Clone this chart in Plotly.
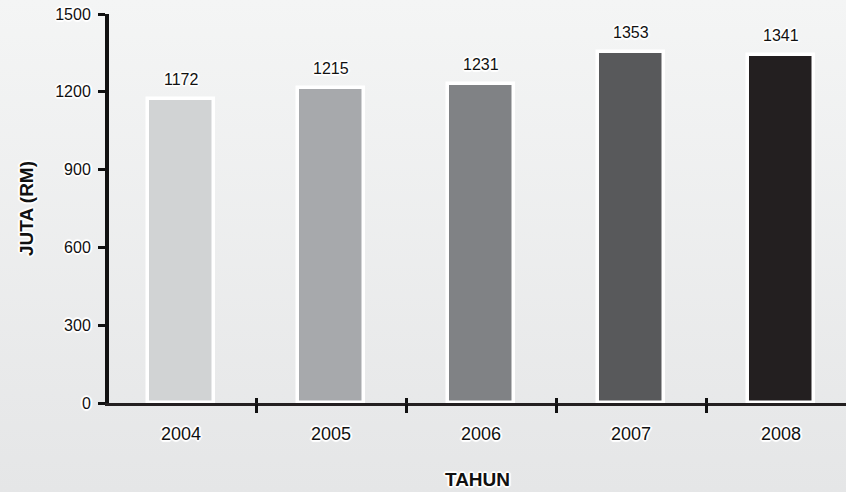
import base64
import plotly.graph_objects as go

# ---- data ----
years = ["2004", "2005", "2006", "2007", "2008"]
values = [1172, 1215, 1231, 1353, 1341]
bar_colors = ["#d1d3d4", "#a7a9ac", "#808285", "#58595b", "#231f20"]
y_ticks = [0, 300, 600, 900, 1200, 1500]
x_title = "TAHUN"
y_title = "JUTA (RM)"

W, H = 846, 492
L, R, T, B = 109, 0, 14, 89
PW, PH = W - L - R, H - T - B

FONT = "Liberation Sans, Arial, Helvetica, sans-serif"
HALO = ("2px 0px 1px white, -2px 0px 1px white, 0px 2px 1px white, 0px -2px 1px white, "
        "1px 1px 1px white, -1px -1px 1px white, 1px -1px 1px white, -1px 1px 1px white")

idx = list(range(len(years)))
boundaries = [i + 0.5 for i in idx[:-1]]
xr = [-0.48, 4.433]

fig = go.Figure()
fig.add_trace(go.Bar(
    x=idx, y=values, width=0.437,
    marker=dict(color=bar_colors, line=dict(color="white", width=3.5)),
    hoverinfo="skip", showlegend=False,
))
# helper traces so overlaying axes are drawn
fig.add_trace(go.Scatter(x=[None], y=[None], xaxis="x2", showlegend=False, hoverinfo="skip"))
fig.add_trace(go.Scatter(x=[None], y=[None], xaxis="x3", showlegend=False, hoverinfo="skip"))

for i, v in zip(idx, values):
    fig.add_annotation(x=i, y=v, xref="x", yref="y", text=str(v), showarrow=False,
                       yanchor="bottom", yshift=9,
                       font=dict(family=FONT, size=16, color="#111111", shadow=HALO))

svg = ('<svg xmlns="http://www.w3.org/2000/svg" width="10" height="100" viewBox="0 0 10 100" '
       'preserveAspectRatio="none"><defs><linearGradient id="g" x1="0" y1="0" x2="0" y2="1">'
       '<stop offset="0" stop-color="#f4f5f5"/><stop offset="1" stop-color="#e5e6e7"/>'
       '</linearGradient></defs><rect width="10" height="100" fill="url(#g)"/></svg>')
uri = "data:image/svg+xml;base64," + base64.b64encode(svg.encode()).decode()
fig.add_layout_image(dict(source=uri, xref="paper", yref="paper",
                          x=-L / PW, y=1 + T / PH, sizex=W / PW, sizey=H / PH,
                          xanchor="left", yanchor="top", sizing="stretch", layer="below"))

fig.update_layout(
    width=W, height=H,
    margin=dict(l=L, r=R, t=T, b=B, autoexpand=False),
    paper_bgcolor="#ededee", plot_bgcolor="rgba(0,0,0,0)",
    font=dict(family=FONT, color="#111111"),
    bargap=0,
    xaxis=dict(
        range=xr, tickmode="array", tickvals=idx, ticktext=years, ticks="",
        showgrid=False, zeroline=False, showline=True, linecolor="#231f20", linewidth=2.5,
        tickfont=dict(size=18, family=FONT, color="#111111", shadow=HALO),
        ticklabelstandoff=13,
        title=dict(text="<b>" + x_title + "</b>", standoff=30,
                   font=dict(size=19, family=FONT, color="#111111", shadow=HALO)),
        automargin=False, fixedrange=True,
    ),
    xaxis2=dict(
        overlaying="x", anchor="y", side="bottom", range=xr, tickmode="array",
        tickvals=boundaries, ticktext=["" for _ in boundaries], ticks="outside",
        ticklen=9, tickwidth=3, tickcolor="#111111", showgrid=False, zeroline=False,
        showline=False, automargin=False, fixedrange=True,
    ),
    xaxis3=dict(
        overlaying="x", anchor="y", side="bottom", range=xr, tickmode="array",
        tickvals=boundaries, ticktext=["" for _ in boundaries], ticks="inside",
        ticklen=5, tickwidth=3, tickcolor="#111111", showgrid=False, zeroline=False,
        showline=False, automargin=False, fixedrange=True,
    ),
    yaxis=dict(
        range=[0, 1500], tickmode="array", tickvals=y_ticks,
        ticks="outside", ticklen=7, tickwidth=3, tickcolor="#111111",
        showgrid=False, zeroline=False, showline=True, linecolor="#111111", linewidth=4,
        tickfont=dict(size=16, family=FONT, color="#111111", shadow=HALO),
        ticklabelstandoff=4,
        title=dict(text="<b>" + y_title + "</b>", standoff=18,
                   font=dict(size=19, family=FONT, color="#111111", shadow=HALO)),
        automargin=False, fixedrange=True,
    ),
)

fig.write_html("out.html", config={"displayModeBar": False},
               post_script="document.body.style.margin='0px';")
